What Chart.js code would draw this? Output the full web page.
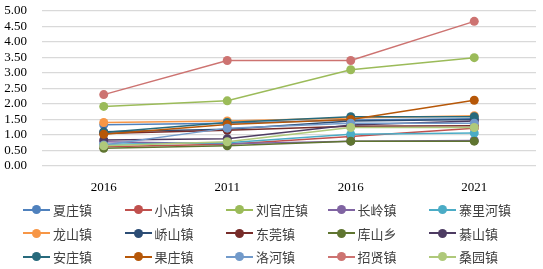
<!DOCTYPE html>
<html>
<head>
<meta charset="utf-8">
<script src="https://cdn.jsdelivr.net/npm/chart.js@4.4.1/dist/chart.umd.min.js"></script>
<style>
  html, body { margin: 0; padding: 0; background: #fff; }
  #wrap { position: relative; width: 543px; height: 200px; }
  #legend {
    position: absolute; left: 23px; top: 198px; width: 520px;
    display: grid; grid-template-columns: repeat(5, 101.5px); grid-auto-rows: 23.5px;
    font-family: "Noto Sans CJK SC", sans-serif; font-size: 13px; color: #404040;
  }
  .item { display: flex; align-items: center; }
  .mark { position: relative; width: 27px; height: 2px; margin-right: 3px; }
  .mark i { position: absolute; left: 9px; top: -3.5px; width: 9px; height: 9px; border-radius: 50%; }
</style>
</head>
<body>
<div id="wrap"><canvas id="myChart"></canvas></div>
<div id="legend"></div>
<script>
var years = ["2016", "2011", "2016", "2021"];
var towns = ["夏庄镇", "小店镇", "刘官庄镇", "长岭镇", "寨里河镇",
  "龙山镇", "峤山镇", "东莞镇", "库山乡", "綦山镇",
  "安庄镇", "果庄镇", "洛河镇", "招贤镇", "桑园镇"];
var colors = ["#4F81BD", "#C0504D", "#9BBB59", "#8064A2", "#4BACC6",
  "#F79646", "#2C4D75", "#772C2A", "#5F7530", "#4D3B62",
  "#276A7C", "#B65708", "#729ACA", "#CD7371", "#AFC97A"];

var xiazhuang = [1.33, 1.38, 1.48, 1.52];
var xiaodian = [0.62, 0.70, 0.95, 1.22];
var liuguanzhuang = [1.92, 2.10, 3.10, 3.49];
var changling = [0.78, 0.72, 0.80, 0.82];
var zhailihe = [0.70, 0.75, 1.02, 1.06];
var longshan = [1.40, 1.45, 1.55, 1.62];
var qiaoshan = [1.10, 1.18, 1.45, 1.50];
var dongguan = [1.05, 1.15, 1.28, 1.30];
var kushan = [0.57, 0.65, 0.80, 0.80];
var qishan = [0.84, 0.88, 1.32, 1.45];
var anzhuang = [1.08, 1.40, 1.59, 1.59];
var guozhuang = [1.02, 1.34, 1.50, 2.12];
var luohe = [0.68, 1.22, 1.38, 1.38];
var zhaoxian = [2.30, 3.40, 3.40, 4.66];
var sangyuan = [0.65, 0.78, 1.24, 1.24];

var series = [xiazhuang, xiaodian, liuguanzhuang, changling, zhailihe,
  longshan, qiaoshan, dongguan, kushan, qishan,
  anzhuang, guozhuang, luohe, zhaoxian, sangyuan];

var datasets = towns.map(function (name, i) {
  return {
    label: name,
    data: series[i],
    borderColor: colors[i],
    backgroundColor: colors[i],
    borderWidth: 1.5,
    pointRadius: 4.5,
    pointBorderWidth: 0,
    order: -i,
  };
});

var ctx = document.getElementById("myChart").getContext("2d");
var myChart = new Chart(ctx, {
  type: "line",
  data: { labels: years, datasets: datasets },
  options: {
    responsive: true,
    maintainAspectRatio: false,
    animation: false,
    layout: { padding: { top: 0, right: 7, left: 0, bottom: 0 } },
    plugins: { legend: { display: false }, tooltip: { enabled: false } },
    scales: {
      x: {
        offset: true,
        afterFit: function (scale) { scale.height = 34; },
        grid: { display: false },
        border: { display: false },
        ticks: { color: "#000", padding: 6, font: { family: "Liberation Serif", size: 13 } },
      },
      y: {
        min: 0,
        max: 5,
        afterFit: function (scale) { scale.width = 42; },
        grid: { color: "#D9D9D9", lineWidth: 1.3, tickLength: 12, tickColor: "rgba(0,0,0,0)" },
        border: { display: false },
        ticks: {
          stepSize: 0.5,
          autoSkip: false,
          padding: 3,
          color: "#000",
          font: { family: "Liberation Serif", size: 13 },
          callback: function (value) { return value.toFixed(2); },
        },
      },
    },
  },
});

var legend = document.getElementById("legend");
towns.forEach(function (name, i) {
  var item = document.createElement("div");
  item.className = "item";
  item.innerHTML = '<span class="mark" style="background:' + colors[i] + '"><i style="background:' +
    colors[i] + '"></i></span><span>' + name + "</span>";
  legend.appendChild(item);
});
</script>
</body>
</html>
